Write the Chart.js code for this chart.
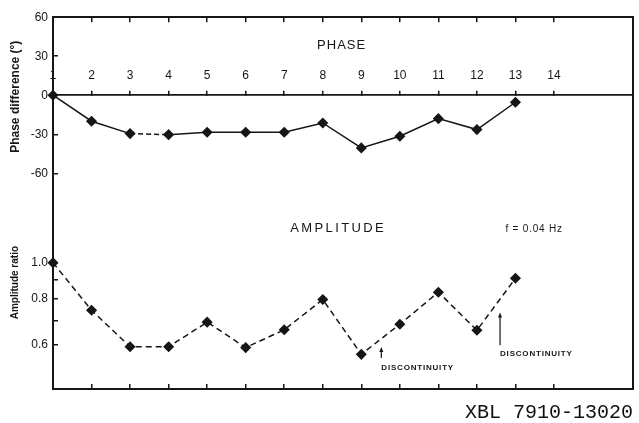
<!DOCTYPE html>
<html>
<head>
<meta charset="utf-8">
<script src="https://cdn.jsdelivr.net/npm/chart.js@4/dist/chart.umd.min.js"></script>
<style>
  html, body { margin: 0; padding: 0; background: #fff; }
</style>
</head>
<body>
<canvas id="chart-phase-amplitude" width="639" height="423"></canvas>
<script>
const stations = [1, 2, 3, 4, 5, 6, 7, 8, 9, 10, 11, 12, 13];
const phaseDiff = [0, -20, -29.5, -30.3, -28.5, -28.5, -28.5, -21.3, -40.5, -31.5, -18, -26.4, -5.4];
const ampRatio = [1.0, 0.745, 0.594, 0.594, 0.692, 0.591, 0.66, 0.796, 0.567, 0.683, 0.833, 0.658, 0.908];

const stationTicks = [1, 2, 3, 4, 5, 6, 7, 8, 9, 10, 11, 12, 13, 14];
const phaseTicks = [60, 30, 0, -30, -60];
const ampTicks = [1.0, 0.9, 0.8, 0.7, 0.6];
const ampTickLabels = ['1.0', '', '0.8', '', '0.6'];

// the 3 -> 4 leg of the phase curve is dashed in the original
const dashedPhaseLeg = 2;

const ink = '#161616';
const sans = '"Liberation Sans", Arial, sans-serif';

const xRange = { min: 1, max: 16.05 };

// text notes placed in data units of the given axis
const notes = [
  { text: 'PHASE', x: 8.49, y: 38.5, axis: 'yPhase', font: '13px ' + sans, spacing: '1px', align: 'center' },
  { text: 'AMPLITUDE', x: 8.4, y: 1.233, axis: 'yAmp', font: '13px ' + sans, spacing: '2.4px', align: 'center' },
  { text: 'f = 0.04 Hz', x: 12.74, y: 1.233, axis: 'yAmp', font: '10px ' + sans, spacing: '0.8px', align: 'left' },
  { text: 'DISCONTINUITY', x: 9.52, y: 0.521, axis: 'yAmp', font: 'bold 8px ' + sans, spacing: '0.8px', align: 'left' },
  { text: 'DISCONTINUITY', x: 12.6, y: 0.568, axis: 'yAmp', font: 'bold 8px ' + sans, spacing: '0.8px', align: 'left' }
];
const arrows = [
  { x: 9.52, from: 0.554, to: 0.593 },
  { x: 12.6, from: 0.60, to: 0.735 }
];

const notesPlugin = {
  id: 'notes',
  afterDatasetsDraw(chart) {
    const { ctx, scales } = chart;
    ctx.save();
    ctx.fillStyle = ink;
    ctx.strokeStyle = ink;
    ctx.textBaseline = 'middle';
    notes.forEach(n => {
      ctx.font = n.font;
      ctx.letterSpacing = n.spacing;
      ctx.textAlign = n.align;
      ctx.fillText(n.text, scales.x.getPixelForValue(n.x), scales[n.axis].getPixelForValue(n.y));
    });
    ctx.letterSpacing = '0px';
    ctx.lineWidth = 1.2;
    arrows.forEach(a => {
      const px = scales.x.getPixelForValue(a.x);
      const y0 = scales.yAmp.getPixelForValue(a.from);
      const y1 = scales.yAmp.getPixelForValue(a.to);
      ctx.beginPath();
      ctx.moveTo(px, y0);
      ctx.lineTo(px, y1 + 3);
      ctx.stroke();
      ctx.beginPath();
      ctx.moveTo(px, y1);
      ctx.lineTo(px - 2, y1 + 5);
      ctx.lineTo(px + 2, y1 + 5);
      ctx.closePath();
      ctx.fill();
    });
    ctx.restore();
  },
  afterDraw(chart) {
    const { ctx, chartArea } = chart;
    ctx.save();
    ctx.fillStyle = '#111';
    ctx.font = '20px "Liberation Mono", "DejaVu Sans Mono", monospace';
    ctx.textAlign = 'right';
    ctx.textBaseline = 'alphabetic';
    ctx.fillText('XBL 7910-13020', chartArea.right, 418);
    ctx.restore();
  }
};

function stationAxis(extra) {
  return Object.assign({
    type: 'linear',
    min: xRange.min,
    max: xRange.max,
    afterBuildTicks: axis => { axis.ticks = stationTicks.map(v => ({ value: v })); },
    afterFit: axis => { axis.height = 0; },
    border: { display: true, color: ink, width: 2 },
    grid: { drawOnChartArea: false, color: ink, lineWidth: 1.5, tickLength: -5 },
    ticks: { display: false, autoSkip: false }
  }, extra);
}

new Chart(document.getElementById('chart-phase-amplitude'), {
  type: 'line',
  data: {
    datasets: [
      {
        label: 'Phase difference',
        data: stations.map((s, i) => ({ x: s, y: phaseDiff[i] })),
        xAxisID: 'x',
        yAxisID: 'yPhase',
        borderColor: ink,
        backgroundColor: ink,
        borderWidth: 1.5,
        pointStyle: 'rectRot',
        pointRadius: 4.5,
        clip: false,
        segment: {
          borderDash: c => c.p0DataIndex === dashedPhaseLeg ? [5, 3] : undefined
        }
      },
      {
        label: 'Amplitude ratio',
        data: stations.map((s, i) => ({ x: s, y: ampRatio[i] })),
        xAxisID: 'x',
        yAxisID: 'yAmp',
        borderColor: ink,
        backgroundColor: ink,
        borderWidth: 1.5,
        borderDash: [6, 4],
        pointStyle: 'rectRot',
        pointRadius: 4.5,
        clip: false
      }
    ]
  },
  options: {
    responsive: false,
    animation: false,
    layout: { padding: { left: 6, right: 4, top: 15, bottom: 34 } },
    plugins: {
      legend: { display: false },
      tooltip: { enabled: false }
    },
    scales: {
      x: stationAxis({ position: 'bottom' }),
      xTop: stationAxis({ position: 'top' }),
      xMid: stationAxis({
        position: { yPhase: 0 },
        border: { display: true, color: ink, width: 1.8 },
        ticks: { display: true, autoSkip: false, maxRotation: 0, padding: -22, color: ink, font: { family: sans, size: 12 } }
      }),
      yAmp: {
        type: 'logarithmic',
        position: 'left',
        stack: 'left',
        stackWeight: 214,
        weight: 1,
        min: 0.4574,
        max: 1.708,
        afterBuildTicks: axis => { axis.ticks = ampTicks.map(v => ({ value: v })); },
        afterFit: axis => { axis.width = 47; },
        border: { display: true, color: ink, width: 2 },
        grid: { drawOnChartArea: false, color: ink, lineWidth: 1.5, tickLength: -5 },
        ticks: {
          autoSkip: false,
          padding: 10,
          color: ink,
          font: { family: sans, size: 12 },
          callback: (v, i) => ampTickLabels[i]
        },
        title: {
          display: true,
          text: 'Amplitude ratio',
          color: ink,
          font: { family: sans, size: 10, weight: 'bold' },
          padding: { top: 3, bottom: 0 }
        }
      },
      yPhase: {
        type: 'linear',
        position: 'left',
        stack: 'left',
        stackWeight: 160,
        weight: 2,
        min: -62.3,
        max: 60,
        afterBuildTicks: axis => { axis.ticks = phaseTicks.map(v => ({ value: v })); },
        afterFit: axis => { axis.width = 47; },
        border: { display: true, color: ink, width: 2 },
        grid: { drawOnChartArea: false, color: ink, lineWidth: 1.5, tickLength: -5 },
        ticks: {
          autoSkip: false,
          padding: 10,
          color: ink,
          font: { family: sans, size: 12 }
        },
        title: {
          display: true,
          text: 'Phase difference (°)',
          color: ink,
          font: { family: sans, size: 12, weight: 'bold' },
          padding: { top: 2, bottom: 0 }
        }
      },
      yRight: {
        type: 'linear',
        position: 'right',
        border: { display: true, color: ink, width: 2 },
        grid: { display: false, drawTicks: false },
        ticks: { display: false }
      }
    }
  },
  plugins: [notesPlugin]
});
</script>
</body>
</html>
